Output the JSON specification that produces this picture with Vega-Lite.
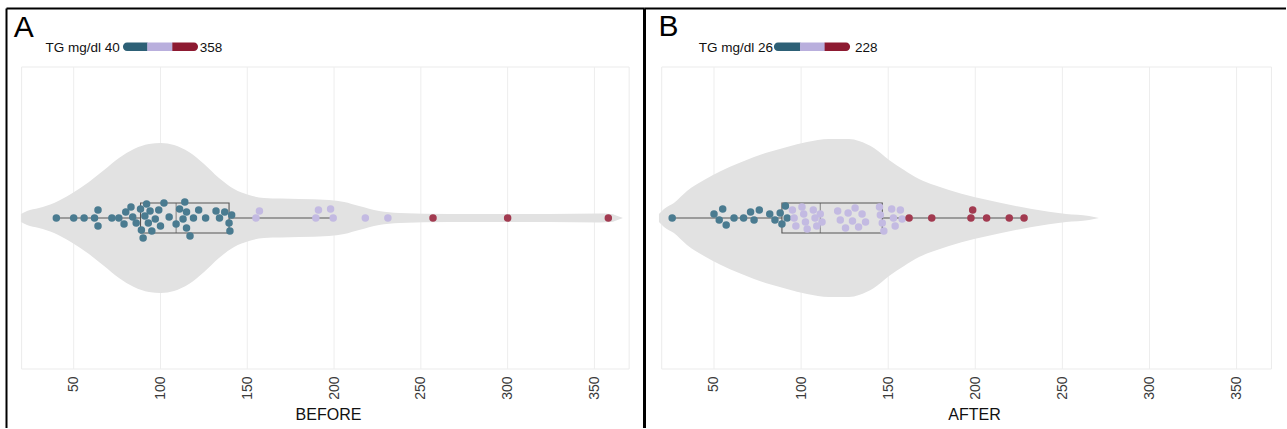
{
  "$schema": "https://vega.github.io/schema/vega-lite/v6.json",
  "padding": {"left": 6, "top": 8, "right": 0, "bottom": 0},
  "bounds": "flush",
  "spacing": 0,
  "resolve": {"scale": {"color": "independent"}},
  "config": {"view": {"stroke": null}, "font": "Liberation Sans", "axis": {"grid": false}},
  "datasets": {
    "ticks": [{"v": 50}, {"v": 100}, {"v": 150}, {"v": 200}, {"v": 250}, {"v": 300}, {"v": 350}],
    "ptsA": [{"tg":40,"swarm":0},{"tg":50,"swarm":0},{"tg":56,"swarm":0},{"tg":62,"swarm":0},{"tg":64,"swarm":8},{"tg":64,"swarm":-8},{"tg":72,"swarm":0},{"tg":76,"swarm":0},{"tg":79,"swarm":-6},{"tg":80,"swarm":6},{"tg":83,"swarm":11},{"tg":84,"swarm":1},{"tg":86,"swarm":-5},{"tg":88.5,"swarm":9},{"tg":89,"swarm":-12},{"tg":90,"swarm":-20},{"tg":91,"swarm":2},{"tg":92,"swarm":14},{"tg":93,"swarm":-5},{"tg":94,"swarm":7},{"tg":95,"swarm":-13},{"tg":97,"swarm":-1},{"tg":99,"swarm":8},{"tg":100,"swarm":-8},{"tg":102,"swarm":15},{"tg":105,"swarm":1},{"tg":109,"swarm":-6},{"tg":111,"swarm":9},{"tg":113,"swarm":-1},{"tg":114,"swarm":16},{"tg":115,"swarm":6},{"tg":115,"swarm":-10},{"tg":117,"swarm":-18},{"tg":119,"swarm":0},{"tg":122,"swarm":8},{"tg":126,"swarm":0},{"tg":132,"swarm":7},{"tg":134,"swarm":0},{"tg":137,"swarm":6},{"tg":139.5,"swarm":-5},{"tg":140,"swarm":-13},{"tg":141,"swarm":3},{"tg":155,"swarm":0},{"tg":157,"swarm":7},{"tg":189.5,"swarm":0},{"tg":191,"swarm":8},{"tg":198,"swarm":9},{"tg":199.5,"swarm":0},{"tg":218,"swarm":0},{"tg":231,"swarm":0},{"tg":257,"swarm":0},{"tg":300,"swarm":0},{"tg":358,"swarm":0}],
    "ptsB": [{"tg":26,"swarm":0},{"tg":50,"swarm":4},{"tg":53,"swarm":-2},{"tg":55,"swarm":9},{"tg":57,"swarm":-7},{"tg":61.5,"swarm":0},{"tg":67,"swarm":0},{"tg":71,"swarm":6},{"tg":73,"swarm":-2},{"tg":76,"swarm":8},{"tg":82,"swarm":4},{"tg":85,"swarm":-2},{"tg":88,"swarm":5},{"tg":89,"swarm":-6},{"tg":91,"swarm":12},{"tg":92,"swarm":0},{"tg":95,"swarm":8},{"tg":96,"swarm":0},{"tg":97,"swarm":-8},{"tg":100.5,"swarm":11},{"tg":101.5,"swarm":4},{"tg":102.5,"swarm":-4},{"tg":103.5,"swarm":-11},{"tg":107,"swarm":8},{"tg":108,"swarm":0},{"tg":109,"swarm":-8},{"tg":111,"swarm":4},{"tg":112,"swarm":-4},{"tg":121,"swarm":7},{"tg":122.5,"swarm":-2},{"tg":125.5,"swarm":-10},{"tg":127,"swarm":5},{"tg":129.5,"swarm":-3},{"tg":131,"swarm":10},{"tg":133,"swarm":-9},{"tg":135,"swarm":4},{"tg":137,"swarm":-4},{"tg":145,"swarm":11},{"tg":145.5,"swarm":3},{"tg":146.6,"swarm":-5},{"tg":147.5,"swarm":-13},{"tg":152,"swarm":9},{"tg":153,"swarm":0},{"tg":154,"swarm":-8},{"tg":157,"swarm":8},{"tg":158,"swarm":-1},{"tg":162,"swarm":0},{"tg":175,"swarm":0},{"tg":197.5,"swarm":0},{"tg":198.5,"swarm":8},{"tg":206.5,"swarm":0},{"tg":219.5,"swarm":0},{"tg":228,"swarm":0}],
    "vioA": [{"tg":19.6,"upper":4,"lower":-4},{"tg":23.1,"upper":7,"lower":-7},{"tg":30,"upper":10,"lower":-10},{"tg":38.7,"upper":15,"lower":-15},{"tg":48.4,"upper":24,"lower":-24},{"tg":58.8,"upper":36,"lower":-36},{"tg":67.5,"upper":48,"lower":-48},{"tg":76.1,"upper":60,"lower":-60},{"tg":84.7,"upper":69,"lower":-69},{"tg":93.4,"upper":74,"lower":-74},{"tg":100.3,"upper":75,"lower":-75},{"tg":107.8,"upper":73,"lower":-73},{"tg":116.4,"upper":66,"lower":-66},{"tg":125.1,"upper":54,"lower":-54},{"tg":133.7,"upper":40,"lower":-40},{"tg":142.4,"upper":29,"lower":-29},{"tg":151,"upper":23,"lower":-23},{"tg":159.6,"upper":20,"lower":-20},{"tg":179.8,"upper":19,"lower":-19},{"tg":197.1,"upper":18,"lower":-18},{"tg":205.8,"upper":16,"lower":-16},{"tg":214.4,"upper":12,"lower":-12},{"tg":225.9,"upper":7,"lower":-7},{"tg":237.5,"upper":5,"lower":-5},{"tg":266.2,"upper":4,"lower":-4},{"tg":323.8,"upper":4,"lower":-4},{"tg":352.6,"upper":4.5,"lower":-4.5},{"tg":359.5,"upper":4,"lower":-4},{"tg":364.1,"upper":1.5,"lower":-1.5},{"tg":366.4,"upper":0,"lower":0}],
    "vioB": [{"tg":18.4,"upper":4,"lower":-4},{"tg":21.3,"upper":9,"lower":-9},{"tg":27,"upper":15,"lower":-15},{"tg":34.5,"upper":27,"lower":-27},{"tg":44.3,"upper":38,"lower":-38},{"tg":54,"upper":47,"lower":-47},{"tg":64.4,"upper":55,"lower":-55},{"tg":73,"upper":61,"lower":-61},{"tg":81.6,"upper":66,"lower":-66},{"tg":91.9,"upper":71,"lower":-71},{"tg":103.4,"upper":76,"lower":-76},{"tg":116,"upper":79,"lower":-79},{"tg":127.5,"upper":79,"lower":-79},{"tg":133.2,"upper":77,"lower":-77},{"tg":141.8,"upper":70,"lower":-70},{"tg":150.5,"upper":58,"lower":-58},{"tg":159.1,"upper":48,"lower":-48},{"tg":167.7,"upper":39,"lower":-39},{"tg":176.3,"upper":33,"lower":-33},{"tg":184.9,"upper":28,"lower":-28},{"tg":199.3,"upper":21,"lower":-21},{"tg":213.6,"upper":15.5,"lower":-15.5},{"tg":232.5,"upper":9,"lower":-9},{"tg":252.1,"upper":4,"lower":-4},{"tg":265.3,"upper":2,"lower":-2},{"tg":271,"upper":0,"lower":0}]
  },
  "hconcat": [
    {
      "width": 638,
      "height": 420,
      "resolve": {"axis": {"x": "independent", "y": "independent"}},
      "layer": [
        {
          "data": {"values": [{}]},
          "mark": {"type": "rect", "filled": false, "stroke": "#EBEBEB", "strokeWidth": 1},
          "encoding": {
            "x": {"datum": 20, "type": "quantitative", "scale": {"domain": [11.0, 378.55], "nice": false, "zero": false}, "axis": null},
            "x2": {"datum": 370},
            "y": {"datum": 151, "type": "quantitative", "scale": {"domain": [-210, 210], "nice": false, "zero": false}, "axis": null},
            "y2": {"datum": -151}
          }
        },
        {
          "data": {"name": "ticks"},
          "mark": {"type": "rule", "stroke": "#EDEDED", "strokeWidth": 1},
          "encoding": {
            "x": {"field": "v", "type": "quantitative", "axis": null},
            "y": {"datum": 151, "type": "quantitative", "axis": null},
            "y2": {"datum": -151}
          }
        },
        {
          "data": {"name": "vioA"},
          "mark": {"type": "area", "fill": "#E2E2E2", "interpolate": "monotone"},
          "encoding": {
            "x": {"field": "tg", "type": "quantitative", "axis": {"orient": "bottom", "offset": -59, "domain": false, "ticks": false, "tickSize": 0, "grid": false, "values": [50, 100, 150, 200, 250, 300, 350], "labelAngle": -90, "labelPadding": 7, "labelFontSize": 14, "labelColor": "#3a3a3a", "labelFlush": false, "labelOverlap": false, "title": "BEFORE", "titleFontSize": 16, "titleFontWeight": "normal", "titleColor": "#111111", "titlePadding": 7, "titleX": 322}},
            "y": {"field": "upper", "type": "quantitative", "axis": {"orient": "left", "domain": true, "domainColor": "#000000", "domainWidth": 2, "ticks": false, "labels": false, "title": null, "grid": false, "minExtent": 0, "maxExtent": 0}},
            "y2": {"field": "lower"}
          }
        },
        {
          "data": {"name": "ptsA"},
          "mark": {"type": "boxplot", "extent": 1.5, "size": 30, "outliers": false, "ticks": false, "box": {"fill": "transparent", "stroke": "#555555", "strokeWidth": 1.1}, "median": {"color": "#555555", "strokeWidth": 1.2}, "rule": {"color": "#555555", "strokeWidth": 1.1}},
          "encoding": {"x": {"field": "tg", "type": "quantitative", "axis": null}}
        },
        {
          "data": {"name": "ptsA"},
          "mark": {"type": "circle", "size": 56, "opacity": 1},
          "encoding": {
            "x": {"field": "tg", "type": "quantitative", "axis": {"orient": "top", "domain": true, "domainColor": "#000000", "domainWidth": 2, "ticks": false, "labels": false, "title": null, "grid": false, "minExtent": 0, "maxExtent": 0}},
            "y": {"field": "swarm", "type": "quantitative", "axis": null},
            "color": {"field": "tg", "type": "quantitative", "scale": {"type": "quantize", "domain": [40, 358], "nice": false, "zero": false, "range": ["#4A7B90", "#C3BAE2", "#A23A50"]}, "legend": null}
          }
        },
        {
          "data": {"values": [{}]},
          "mark": {"type": "rect", "fill": "#2D6076", "cornerRadiusTopLeft": 4, "cornerRadiusBottomLeft": 4},
          "encoding": {"x": {"datum": 78.4, "type": "quantitative", "axis": null}, "x2": {"datum": 92.6}, "y": {"datum": 175.5, "type": "quantitative", "axis": null}, "y2": {"datum": 167}}
        },
        {
          "data": {"values": [{}]},
          "mark": {"type": "rect", "fill": "#B9AFDD"},
          "encoding": {"x": {"datum": 92.4, "type": "quantitative", "axis": null}, "x2": {"datum": 107}, "y": {"datum": 175.5, "type": "quantitative", "axis": null}, "y2": {"datum": 167}}
        },
        {
          "data": {"values": [{}]},
          "mark": {"type": "rect", "fill": "#8D1A31", "cornerRadiusTopRight": 4, "cornerRadiusBottomRight": 4},
          "encoding": {"x": {"datum": 106.8, "type": "quantitative", "axis": null}, "x2": {"datum": 121.6}, "y": {"datum": 175.5, "type": "quantitative", "axis": null}, "y2": {"datum": 167}}
        },
        {
          "data": {"values": [{}]},
          "mark": {"type": "text", "text": "TG mg/dl 40", "fontSize": 13.5, "align": "right", "baseline": "alphabetic", "color": "#111111"},
          "encoding": {"x": {"datum": 76.6, "type": "quantitative", "axis": null}, "y": {"datum": 166.5, "type": "quantitative", "axis": null}}
        },
        {
          "data": {"values": [{}]},
          "mark": {"type": "text", "text": "358", "fontSize": 13.5, "align": "left", "baseline": "alphabetic", "color": "#111111"},
          "encoding": {"x": {"datum": 122.6, "type": "quantitative", "axis": null}, "y": {"datum": 166.5, "type": "quantitative", "axis": null}}
        },
        {
          "data": {"values": [{}]},
          "mark": {"type": "text", "text": "A", "fontSize": 30, "align": "left", "baseline": "alphabetic", "color": "#000000"},
          "encoding": {"x": {"datum": 15.4, "type": "quantitative", "axis": null}, "y": {"datum": 180.7, "type": "quantitative", "axis": null}}
        }
      ]
    },
    {
      "width": 642,
      "height": 420,
      "resolve": {"axis": {"x": "independent", "y": "independent"}},
      "layer": [
        {
          "data": {"values": [{}]},
          "mark": {"type": "rect", "filled": false, "stroke": "#EBEBEB", "strokeWidth": 1},
          "encoding": {
            "x": {"datum": 20, "type": "quantitative", "scale": {"domain": [9.82, 378.36], "nice": false, "zero": false}, "axis": null},
            "x2": {"datum": 370},
            "y": {"datum": 151, "type": "quantitative", "scale": {"domain": [-210, 210], "nice": false, "zero": false}, "axis": null},
            "y2": {"datum": -151}
          }
        },
        {
          "data": {"name": "ticks"},
          "mark": {"type": "rule", "stroke": "#EDEDED", "strokeWidth": 1},
          "encoding": {
            "x": {"field": "v", "type": "quantitative", "axis": null},
            "y": {"datum": 151, "type": "quantitative", "axis": null},
            "y2": {"datum": -151}
          }
        },
        {
          "data": {"name": "vioB"},
          "mark": {"type": "area", "fill": "#E2E2E2", "interpolate": "monotone"},
          "encoding": {
            "x": {"field": "tg", "type": "quantitative", "axis": {"orient": "bottom", "offset": -59, "domain": false, "ticks": false, "tickSize": 0, "grid": false, "values": [50, 100, 150, 200, 250, 300, 350], "labelAngle": -90, "labelPadding": 7, "labelFontSize": 14, "labelColor": "#3a3a3a", "labelFlush": false, "labelOverlap": false, "title": "AFTER", "titleFontSize": 16, "titleFontWeight": "normal", "titleColor": "#111111", "titlePadding": 7, "titleX": 330}},
            "y": {"field": "upper", "type": "quantitative", "axis": {"orient": "left", "domain": true, "domainColor": "#000000", "domainWidth": 3, "ticks": false, "labels": false, "title": null, "grid": false, "minExtent": 0, "maxExtent": 0}},
            "y2": {"field": "lower"}
          }
        },
        {
          "data": {"name": "ptsB"},
          "mark": {"type": "boxplot", "extent": 1.5, "size": 30, "outliers": false, "ticks": false, "box": {"fill": "transparent", "stroke": "#555555", "strokeWidth": 1.1}, "median": {"color": "#555555", "strokeWidth": 1.2}, "rule": {"color": "#555555", "strokeWidth": 1.1}},
          "encoding": {"x": {"field": "tg", "type": "quantitative", "axis": null}}
        },
        {
          "data": {"name": "ptsB"},
          "mark": {"type": "circle", "size": 56, "opacity": 1},
          "encoding": {
            "x": {"field": "tg", "type": "quantitative", "axis": {"orient": "top", "domain": true, "domainColor": "#000000", "domainWidth": 2, "ticks": false, "labels": false, "title": null, "grid": false, "minExtent": 0, "maxExtent": 0}},
            "y": {"field": "swarm", "type": "quantitative", "axis": null},
            "color": {"field": "tg", "type": "quantitative", "scale": {"type": "quantize", "domain": [26, 228], "nice": false, "zero": false, "range": ["#4A7B90", "#C3BAE2", "#A23A50"]}, "legend": null}
          }
        },
        {
          "data": {"values": [{}]},
          "mark": {"type": "rect", "fill": "#2D6076", "cornerRadiusTopLeft": 4, "cornerRadiusBottomLeft": 4},
          "encoding": {"x": {"datum": 84.4, "type": "quantitative", "axis": null}, "x2": {"datum": 99.6}, "y": {"datum": 175.5, "type": "quantitative", "axis": null}, "y2": {"datum": 167}}
        },
        {
          "data": {"values": [{}]},
          "mark": {"type": "rect", "fill": "#B9AFDD"},
          "encoding": {"x": {"datum": 99.4, "type": "quantitative", "axis": null}, "x2": {"datum": 113.7}, "y": {"datum": 175.5, "type": "quantitative", "axis": null}, "y2": {"datum": 167}}
        },
        {
          "data": {"values": [{}]},
          "mark": {"type": "rect", "fill": "#8D1A31", "cornerRadiusTopRight": 4, "cornerRadiusBottomRight": 4},
          "encoding": {"x": {"datum": 113.5, "type": "quantitative", "axis": null}, "x2": {"datum": 128.1}, "y": {"datum": 175.5, "type": "quantitative", "axis": null}, "y2": {"datum": 167}}
        },
        {
          "data": {"values": [{}]},
          "mark": {"type": "text", "text": "TG mg/dl 26", "fontSize": 13.5, "align": "right", "baseline": "alphabetic", "color": "#111111"},
          "encoding": {"x": {"datum": 83.9, "type": "quantitative", "axis": null}, "y": {"datum": 166.5, "type": "quantitative", "axis": null}}
        },
        {
          "data": {"values": [{}]},
          "mark": {"type": "text", "text": "228", "fontSize": 13.5, "align": "left", "baseline": "alphabetic", "color": "#111111"},
          "encoding": {"x": {"datum": 130.9, "type": "quantitative", "axis": null}, "y": {"datum": 166.5, "type": "quantitative", "axis": null}}
        },
        {
          "data": {"values": [{}]},
          "mark": {"type": "text", "text": "B", "fontSize": 30, "align": "left", "baseline": "alphabetic", "color": "#000000"},
          "encoding": {"x": {"datum": 18.1, "type": "quantitative", "axis": null}, "y": {"datum": 181.7, "type": "quantitative", "axis": null}}
        }
      ]
    }
  ]
}
